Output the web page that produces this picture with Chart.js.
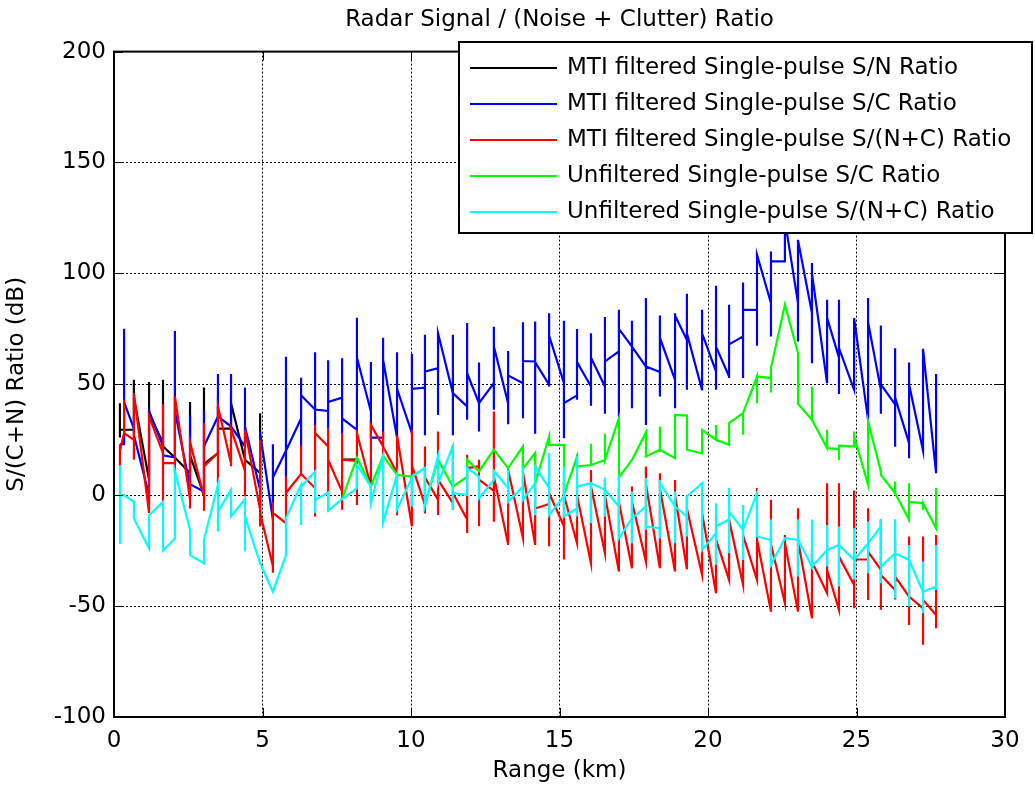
<!DOCTYPE html>
<html>
<head>
<meta charset="utf-8">
<script src="https://cdn.jsdelivr.net/npm/chart.js@4.4.1/dist/chart.umd.min.js"></script>
<style>
  html, body { margin: 0; padding: 0; background: #fff; }
  #wrap { width: 1035px; height: 785px; }
</style>
</head>
<body>
<div id="wrap"><canvas id="grafico" width="1035" height="785"></canvas></div>
<script>
// Range bins (km) where the ratios jump
const rangeKm = [0.20, 0.34, 0.67, 1.18, 1.65, 2.05, 2.56, 3.03, 3.50, 3.94, 4.41, 4.92,
  5.35, 5.79, 6.30, 6.77, 7.21, 7.68, 8.18, 8.65, 9.06, 9.53, 10.03, 10.47, 10.91, 11.41,
  11.89, 12.29, 12.79, 13.27, 13.77, 14.18, 14.65, 15.15, 15.59, 16.06, 16.53, 17.00, 17.44,
  17.91, 18.38, 18.89, 19.29, 19.80, 20.27, 20.71, 21.18, 21.65, 22.12, 22.59, 23.03, 23.50,
  24.01, 24.41, 24.92, 25.39, 25.82, 26.30, 26.77, 27.24, 27.68];

// dB values visited at each range bin (in drawing order), null = no line
const mtiSN = [
  [26, 41.5, 29.5], [29.5], [29.5, 52, 30, 44], [7, 51, 37], [23.5, 52, 22], [17],
  [10, 42, 18], [0, 48.6, 14], [19, 40, 30], [30, 41.5], [16], [10, 37, 23.5, -14],
  null, null, null, null, null, [16], [16]
];
const mtiSC = [
  [23], [23, 75, 42], [30, 27], [0, 39, 38], [22, 30, 18], [17, 74, 38], [4, 36, 5],
  [1.6, 38, 22], [35.5, 54.7, 35.5], [31, 54.7, 31], [22, 48.6, 29, 31], [2.4, 28.7, 28],
  [-11, 23, 16, 8], [20, 62.4, 8, 20], [34.6, 53, 22, 45], [38.6, 64.5, 31.7, 38.6],
  [38, 60.8, 30, 42], [44, 61.8, 28, 34.6], [29.5, 80, 29.5, 62], [37.7, 60, 26],
  [26, 71, 26, 61], [26, 64.5, 26, 48], [28, 63.8, 28, 48], [48.5, 72.3, 27, 55.7],
  [57.3, 73, 36.2, 73], [46, 72.3, 27, 46], [40, 77.6, 34, 55], [41.5, 59.8, 28.7, 41.5],
  [50.5, 76, 38.5, 67], [41.5, 65, 32, 54], [50.5, 78, 34.7, 60.5], [60.3, 78.3, 27.7, 60],
  [49.8, 82, 49, 72], [50.5, 78.6, 25.7, 41.5], [45, 74.9, 43, 60], [49, 73, 40.3, 62],
  [49, 80.3, 36.7, 60.3], [64.8, 83.6, 35.2, 75], [67, 78.6, 39.2, 67], [58, 88.9, 31.7, 58],
  [55.5, 81, 44.5, 71], [52, 82, 39.2, 81], [70, 90.8, 47.5, 73], [47.5, 83.6, 47.2, 73],
  [55.8, 94.4, 47.5, 67], [53.5, 85.9, 52.8, 68], [71.6, 95.9, 52.8, 83.6],
  [83.6, 108.4, 67.4, 108.4], [86.6, 109.9, 71.6, 105.4], [105.4, 124, 105.4, 124],
  [86.6, 115.2, 69.3, 115], [82.1, 104.7, 59.5, 100], [50.5, 88.1, 50.5, 80],
  [62, 88.1, 45.6, 66.3], [47.5, 79.8, 47.5, 79.8], [34, 88.9, 34, 78], [47.5, 76.5, 36.7, 50],
  [41, 66.3, 21.8, 44], [23.5, 59.8, 16.7, 50], [20.2, 66, 20.2, 66], [9.9, 54.6, 9.9]
];
const mtiSNC = [
  [13, 23, 20], [28, 43, 28], [25, 46, 16, 46], [-8, 35.5, 35.5], [19, 41, -5, 14.5],
  [14.5, 44.5, 10, 44.5], [-2, 24, -6, 24], [-0.6, 32.5, -7, 13], [19, 40, 5.4, 40],
  [14.4, 29.5, 13, 30], [11, 29.5, -0.6, 29.5], [-6.6, 25, -14, -8], [-32, -3, -35, -8],
  [-12.6, 8.4, 1], [9.6, 22.4, 9.6], [3.2, 31.7, -9.6, 28], [22, 30, -7.4, 16],
  [1.6, 28, -6.6, 16], [15.5, 29.5, -4.4, 28], [4, 31.7, -3.6, 31.7], [22, 28.7, 10, 22],
  [10, 26.8, -9, 26.8], [-14, 29.5, -14, 13.5], [-4.4, 22, -8.3, 8], [-2, 28.7, -8.9, 7],
  [-3.6, 22.7, -6.6, 1], [-11, 18.2, -17, 12.2], [13, 16, -14, 7], [2, 37.7, -12, 8.4],
  [-22, 12.2, -22.4, 11.5], [-19.4, 17.4, -19.4, 10.5], [-22.4, 19, -22.4, -6],
  [-4, 16, -23, 1], [-14, 6, -29, 0], [-21.7, 5.4, -21.7, 0], [-30.7, 11.4, -30.7, 4],
  [-26.2, 6.9, -26.2, 0], [-34.4, 3, -34.4, -3], [-32.9, 3.9, -32.9, -3],
  [-29.9, 12.9, -29.9, 5], [-32.9, 9.9, -32.9, 3], [-34.4, 6.9, -34.4, 0],
  [-33.4, -0.6, -33.4, -6], [-35.9, -1, -35.9, -8], [-44.2, -8, -44.2, -20],
  [-38.2, -7.4, -38.2, -11], [-40.4, -15, -40.4, -18], [-38.2, 3.2, -38.2, -20],
  [-52.5, -2.1, -52.5, -22], [-48.7, -18, -48.7, -21.7], [-52.5, -5.9, -52.5, -20.2],
  [-55.5, -24.7, -55.5, -30], [-44.2, 5.4, -44.2, -33.7], [-51.7, 5.4, -51.7, -27.7],
  [-40.5, 2.1, -51, -29], [-29, -5.9, -47.2, -25.4], [-33.7, -11, -51.7, -36],
  [-42.7, -20, -47, -36.7], [-45.7, -18.6, -58.5, -45.7], [-51, -18.6, -67.4, -47.2],
  [-54, -17.9, -60]
];
const unfSC = [
  null, null, null, null, null, null, null, null, null, null, null, null, null, null, null,
  null, null, [-1.8], [17], [4], [17.7], [9.2], [8.4], [12.2, -4.4], [16], [3.9], [8.4, 16],
  [10.8], [20.5], [12.2], [22, 12], [19, 5.4], [26.5, 22.7], [22.7, 12.9, 0.2],
  [17.4, 18.6, 13], [13.6, 23.2, 13.6], [15.9, 27.7, 15.9], [34.7, 8], [15.9], [28.3, 17.4],
  [20.5, 31, 20.5], [16.7, 36.2], [35.9, 20.5], [18.9, 29.5], [25, 31.7, 25],
  [22.7, 29.5, 22.7, 32.5], [37, 27.2, 37], [53.5, 41.5, 53.5], [52.8, 46.3, 57.3], [85.9],
  [64.1, 41.2], [34, 49, 34], [21.2, 29.5, 21.2], [20.8, 22.3, 15.9, 22.3],
  [22, 28.7, 22, 26.5], [4.7, 33.2], [10.7, 9.2], [0.9, 6.2, 0.9], [-11.1, 5.4, -3],
  [-3.6, -6.6, -3.6], [-14.9, 3.2]
];
const unfSNC = [
  [-22, 13.5, 0], [0], [-3, -10.5], [-24, -9], [-3, -25], [-19.5, 10.7], [-15.6, -27],
  [-30.7, -20], [4.7, -16.4, -7.4], [2.4, -9.6], [-1.8, -25.4, -9.6], [-30.7], [-43.5],
  [-27, -10.4], [4.7, -13.4, 3.9], [10.7, -8.1, -2.1], [1.2, -6.9], [-1.8], [3.2, 13.7],
  [3.9, -3.6], [17.7, -12.3], [9.2, -6.3], [7.7, -5.1, 8.4], [12.2, -4.4], [17.4, 5.4],
  [22, -6.6, 0.9], [0.2, 12.2], [8.4, -1.4], [6.9, 11], [3.2, 11.5, -3], [3.9, 13, -2.1],
  [5.4, 13.7, -9, 12.9], [3.2, 19, -8.9], [-0.6, 12.9, -9.6], [-5.9, 17.4, -9.6, 3.9],
  [5.4, -12.6, 5.4], [2.4, 8, -9.6, 2.4], [-5.1, 9.2, -19.4], [-10.4, 1.7, -21.7, -10.4],
  [-5.1, 7.7, -15.6, -14.1], [-14.9, 6.9, -19.4, 5.4], [-5.1, 1.7, -21.7, -5.1],
  [-9.6, -0.6, -18.6, -0.6], [5.4, -24.7], [-17.1, -3.6, -31.4, -14], [-11, 3.2, -26.2, -7.4],
  [-15.6, -4.4, -29.2, -15.6], [0.9, 1.7, -18.6], [-20.2, -11, -32.2, -31.4], [-19.4],
  [-20.2, -11, -36.7, -20], [-32.2, -11, -32.2], [-24.7, -13.4, -32.2, -24.7],
  [-22.4, -14.1, -41.2, -22.4], [-29.2, -14.9, -38, -29.2], [-21.7, -11.9, -35.2, -21.7],
  [-14.1, -10.8, -39.7, -32.2], [-26.2, -10.8, -46.5, -26.2], [-29.2, -22.4, -50.2, -29.2],
  [-43.5, -29.9, -53.2, -43.5], [-41.2, -22.4, -42.7]
];

const xTicks = [0, 5, 10, 15, 20, 25, 30];
const yTicks = [-100, -50, 0, 50, 100, 150, 200];
const seriesNames = ['MTI filtered Single-pulse S/N Ratio', 'MTI filtered Single-pulse S/C Ratio',
  'MTI filtered Single-pulse S/(N+C) Ratio', 'Unfiltered Single-pulse S/C Ratio',
  'Unfiltered Single-pulse S/(N+C) Ratio'];
const seriesColors = ['#000000', '#0000ff', '#ff0000', '#00ff00', '#00ffff'];

const FONT = 'DejaVu Sans';

//Convertir cada serie a puntos {x,y}
function toPoints(vals) {
  const pts = [];
  vals.forEach((ys, i) => {
    if (!ys) { pts.push({x: rangeKm[i], y: null}); return; }
    ys.forEach(y => pts.push({x: rangeKm[i], y: y}));
  });
  return pts;
}

//Leyenda, caja de ejes y marcas internas estilo MATLAB
const matlabFrame = {
  id: 'matlabFrame',
  afterDraw(chart) {
    const ctx = chart.ctx;
    const a = chart.chartArea;
    const xs = chart.scales.x, ys = chart.scales.y;
    ctx.save();
    ctx.strokeStyle = '#000';
    ctx.lineWidth = 1;
    ctx.beginPath();
    xTicks.forEach(t => {
      const px = Math.round(xs.getPixelForValue(t)) + 0.5;
      ctx.moveTo(px, a.bottom); ctx.lineTo(px, a.bottom - 9);
      ctx.moveTo(px, a.top); ctx.lineTo(px, a.top + 9);
    });
    yTicks.forEach(t => {
      const py = Math.round(ys.getPixelForValue(t)) + 0.5;
      ctx.moveTo(a.left, py); ctx.lineTo(a.left + 9, py);
      ctx.moveTo(a.right, py); ctx.lineTo(a.right - 9, py);
    });
    ctx.stroke();
    ctx.lineWidth = 2;
    ctx.strokeRect(a.left, a.top, a.right - a.left, a.bottom - a.top);

    // legend box
    const lx = 459, ly = 42, lw = 573, lh = 191;
    ctx.fillStyle = '#fff';
    ctx.fillRect(lx, ly, lw, lh);
    ctx.lineWidth = 2;
    ctx.strokeRect(lx, ly, lw, lh);
    ctx.font = '23px "' + FONT + '"';
    ctx.textBaseline = 'middle';
    ctx.textAlign = 'left';
    seriesNames.forEach((name, i) => {
      const yy = 68 + i * 36;
      ctx.strokeStyle = seriesColors[i];
      ctx.lineWidth = 2;
      ctx.beginPath();
      ctx.moveTo(470, yy); ctx.lineTo(557, yy);
      ctx.stroke();
      ctx.fillStyle = '#000';
      ctx.fillText(name, 567, yy);
    });
    ctx.restore();
  }
};

const seriesData = [mtiSN, mtiSC, mtiSNC, unfSC, unfSNC];
const ctx = document.getElementById('grafico').getContext('2d');
new Chart(ctx, {
  type: 'line',
  data: {
    datasets: seriesData.map((vals, i) => ({
      label: seriesNames[i],
      data: toPoints(vals),
      borderColor: seriesColors[i],
      backgroundColor: seriesColors[i],
      borderWidth: 2.2,
      pointRadius: 0,
      tension: 0,
      fill: false,
      spanGaps: false,
      order: 5 - i
    }))
  },
  options: {
    responsive: false,
    animation: false,
    layout: { padding: { left: 0, right: 30, top: 0, bottom: 0 } },
    plugins: {
      legend: { display: false },
      tooltip: { enabled: false },
      title: {
        display: true,
        fullSize: false,
        text: 'Radar Signal / (Noise + Clutter) Ratio',
        color: '#000',
        font: { family: FONT, size: 23, weight: 'normal' },
        padding: { top: 6, bottom: 18 }
      }
    },
    scales: {
      x: {
        type: 'linear',
        min: 0, max: 30,
        afterFit: s => { s.height = 68; },
        afterBuildTicks: s => { s.ticks = xTicks.map(v => ({value: v})); },
        ticks: { color: '#000', font: { family: FONT, size: 23 }, padding: 10, maxRotation: 0 },
        grid: { color: '#000', lineWidth: 1, drawTicks: false },
        border: { display: false, dash: [2, 2] },
        title: { display: true, text: 'Range (km)', color: '#000',
          font: { family: FONT, size: 23 }, padding: { top: 0, bottom: 0 } }
      },
      y: {
        min: -100, max: 200,
        afterFit: s => { s.width = 114; },
        afterBuildTicks: s => { s.ticks = yTicks.map(v => ({value: v})); },
        ticks: { color: '#000', font: { family: FONT, size: 23 }, padding: 8 },
        grid: { color: '#000', lineWidth: 1, drawTicks: false },
        border: { display: false, dash: [2, 2] },
        title: { display: true, text: 'S/(C+N) Ratio (dB)', color: '#000',
          font: { family: FONT, size: 23 }, padding: { top: 3, bottom: 0 } }
      }
    }
  },
  plugins: [matlabFrame]
});
</script>
</body>
</html>
